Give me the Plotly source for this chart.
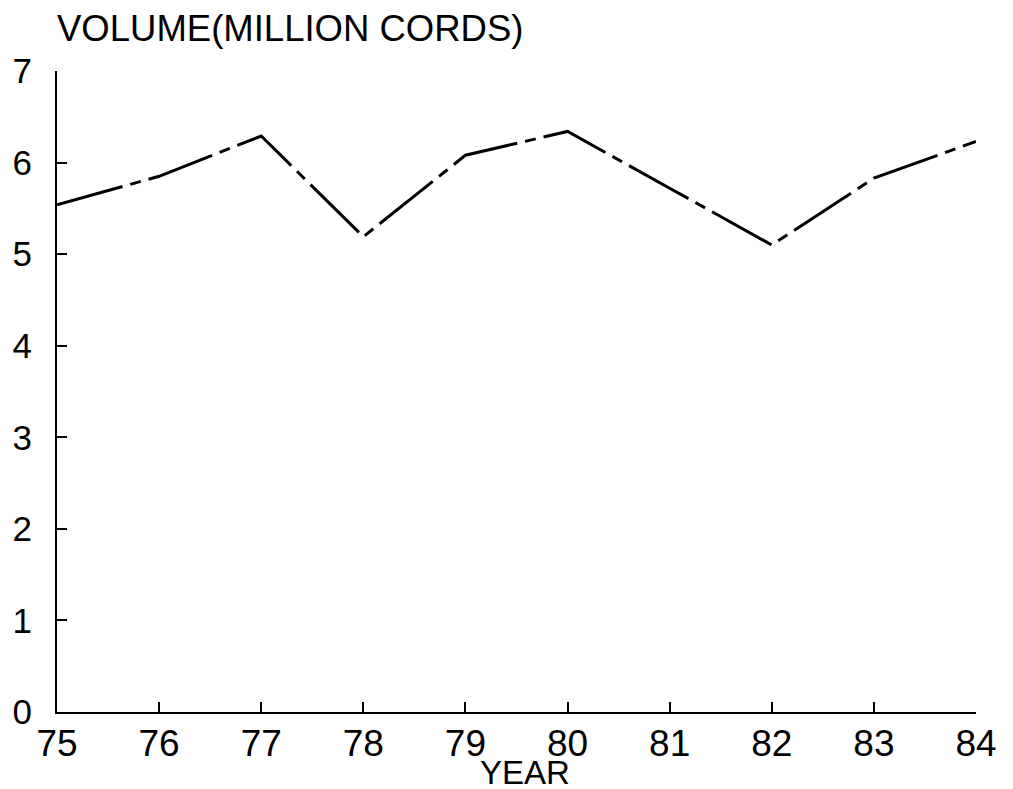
import plotly.graph_objects as go

years = [75, 76, 77, 78, 79, 80, 81, 82, 83, 84]
volume = [5.54, 5.85, 6.29, 5.19, 6.08, 6.34, 5.72, 5.10, 5.83, 6.23]
x_ticks = [75, 76, 77, 78, 79, 80, 81, 82, 83, 84]
y_ticks = [0, 1, 2, 3, 4, 5, 6, 7]
y_title = "VOLUME(MILLION CORDS)"
x_title = "YEAR"

FONT = "Liberation Sans"

fig = go.Figure()
fig.add_trace(go.Scatter(
    x=years, y=volume, mode="lines",
    line=dict(color="black", width=3, dash="68px,8px,11px,8px"),
    showlegend=False, hoverinfo="skip",
))

fig.update_layout(
    width=1013, height=789,
    margin=dict(l=49, r=45, t=63, b=85, pad=0, autoexpand=False),
    paper_bgcolor="white", plot_bgcolor="white",
    font=dict(family=FONT, color="black", size=36),
    xaxis=dict(
        range=[75, 84], tickmode="array", tickvals=x_ticks,
        ticktext=[str(v) for v in x_ticks],
        showgrid=False, zeroline=False, showline=True,
        linecolor="black", linewidth=2,
        ticks="inside", ticklen=10, tickwidth=2, tickcolor="black",
        tickfont=dict(family=FONT, size=37, color="black"),
        ticklabelstandoff=-2, automargin=False,
    ),
    yaxis=dict(
        range=[0, 7], tickmode="array", tickvals=y_ticks,
        ticktext=[str(v) for v in y_ticks],
        showgrid=False, zeroline=False, showline=True,
        linecolor="black", linewidth=2,
        ticks="inside", ticklen=10, tickwidth=2, tickcolor="black",
        tickfont=dict(family=FONT, size=35, color="black"),
        ticklabelstandoff=16, automargin=False,
    ),
    annotations=[
        dict(text=y_title, xref="paper", yref="paper", x=0, y=1,
             xanchor="left", yanchor="bottom", xshift=-2, yshift=20,
             showarrow=False, font=dict(family=FONT, size=36.5, color="black")),
        dict(text=x_title, xref="paper", yref="paper", x=0.5, y=0,
             xanchor="center", yanchor="top", xshift=8, yshift=-40,
             showarrow=False, font=dict(family=FONT, size=33, color="black")),
    ],
)

fig.write_html("out.html")
